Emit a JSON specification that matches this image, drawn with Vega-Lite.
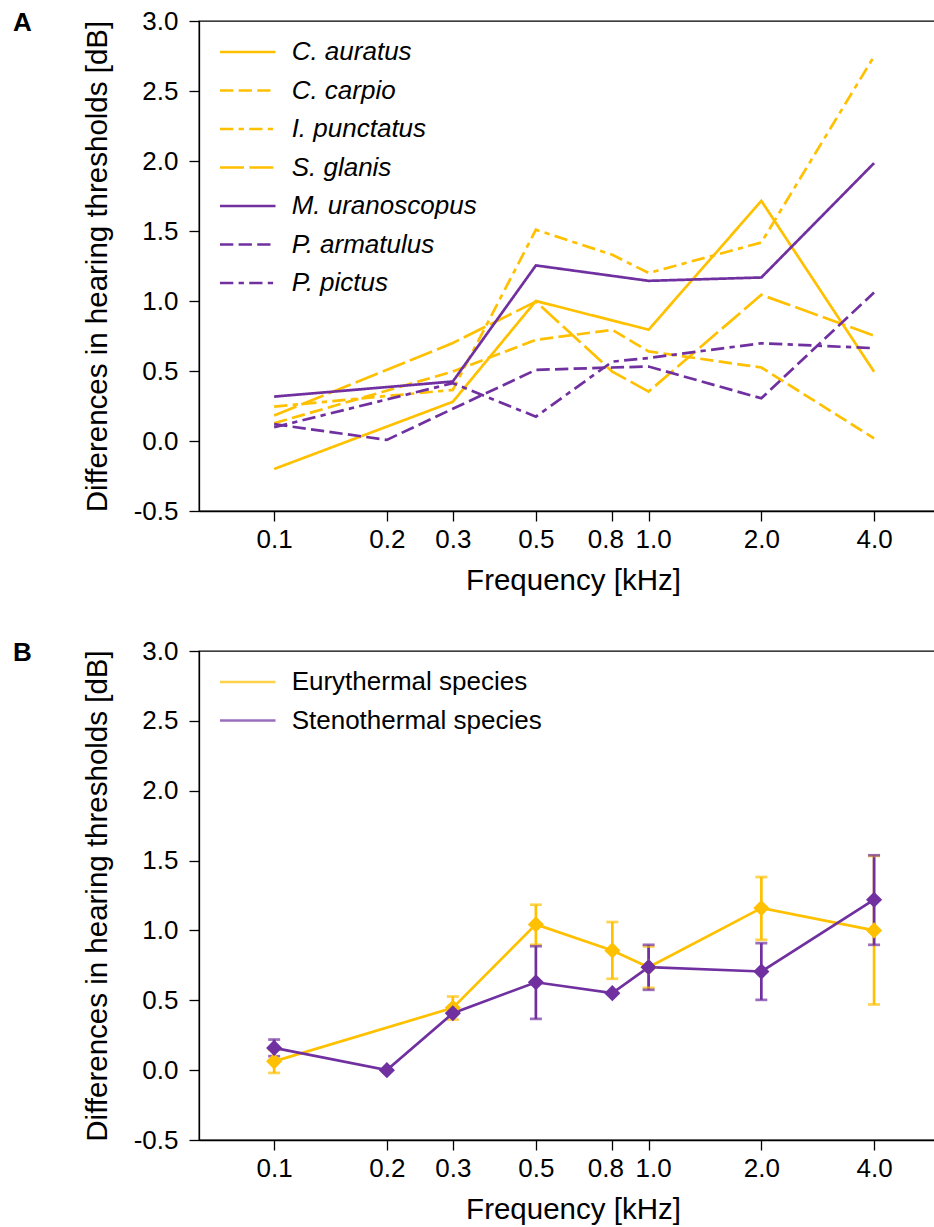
{
  "$schema": "https://vega.github.io/schema/vega-lite/v6.json",
  "padding": {"left": 12, "top": 7, "right": 0, "bottom": 0},
  "background": "white",
  "spacing": 41,
  "resolve": {
    "scale": {"color": "independent", "strokeDash": "independent"},
    "legend": {"color": "independent", "strokeDash": "independent"}
  },
  "config": {
    "font": "Liberation Sans",
    "view": {"stroke": "black", "strokeWidth": 1.3},
    "axis": {
      "grid": false,
      "domainColor": "black",
      "domainWidth": 1.3,
      "tickColor": "black",
      "tickWidth": 1.3,
      "tickSize": 10,
      "labelFont": "Liberation Sans",
      "labelFontSize": 26,
      "labelColor": "black",
      "titleFont": "Liberation Sans",
      "titleFontSize": 29.5,
      "titleFontWeight": "normal",
      "titleColor": "black",
      "labelOverlap": false
    },
    "axisX": {"labelPadding": 5, "titlePadding": 14, "titleX": 374, "labelFlush": false},
    "axisY": {"labelPadding": 11, "titlePadding": 21},
    "legend": {
      "orient": "top-left",
      "offset": 18,
      "padding": 0,
      "symbolType": "stroke",
      "symbolSize": 3080,
      "symbolStrokeWidth": 2.7,
      "symbolOffset": 1.25,
      "labelOffset": 14.4,
      "labelFont": "Liberation Sans",
      "labelFontSize": 26,
      "labelColor": "black",
      "labelLimit": 0,
      "rowPadding": 12.5,
      "clipHeight": 26
    },
    "title": {
      "anchor": "start",
      "frame": "group",
      "font": "Liberation Sans",
      "fontSize": 26,
      "fontWeight": "bold",
      "color": "black",
      "offset": 0,
      "baseline": "alphabetic",
      "dx": -186,
      "dy": 32
    }
  },
  "datasets": {
    "species": [
      {"species": "C. auratus", "freq": 0.1, "diff": -0.2},
      {"species": "C. auratus", "freq": 0.3, "diff": 0.28},
      {"species": "C. auratus", "freq": 0.5, "diff": 1.0},
      {"species": "C. auratus", "freq": 1.0, "diff": 0.795},
      {"species": "C. auratus", "freq": 2.0, "diff": 1.715},
      {"species": "C. auratus", "freq": 4.0, "diff": 0.495},
      {"species": "C. carpio", "freq": 0.1, "diff": 0.127},
      {"species": "C. carpio", "freq": 0.3, "diff": 0.496},
      {"species": "C. carpio", "freq": 0.5, "diff": 0.722},
      {"species": "C. carpio", "freq": 0.8, "diff": 0.794},
      {"species": "C. carpio", "freq": 1.0, "diff": 0.64},
      {"species": "C. carpio", "freq": 2.0, "diff": 0.525},
      {"species": "C. carpio", "freq": 4.0, "diff": 0.019},
      {"species": "I. punctatus", "freq": 0.1, "diff": 0.246},
      {"species": "I. punctatus", "freq": 0.3, "diff": 0.365},
      {"species": "I. punctatus", "freq": 0.5, "diff": 1.509},
      {"species": "I. punctatus", "freq": 0.8, "diff": 1.33},
      {"species": "I. punctatus", "freq": 1.0, "diff": 1.2},
      {"species": "I. punctatus", "freq": 2.0, "diff": 1.418},
      {"species": "I. punctatus", "freq": 4.0, "diff": 2.748},
      {"species": "S. glanis", "freq": 0.1, "diff": 0.182},
      {"species": "S. glanis", "freq": 0.3, "diff": 0.7},
      {"species": "S. glanis", "freq": 0.5, "diff": 0.996},
      {"species": "S. glanis", "freq": 0.8, "diff": 0.496},
      {"species": "S. glanis", "freq": 1.0, "diff": 0.353},
      {"species": "S. glanis", "freq": 2.0, "diff": 1.044},
      {"species": "S. glanis", "freq": 4.0, "diff": 0.753},
      {"species": "M. uranoscopus", "freq": 0.1, "diff": 0.317},
      {"species": "M. uranoscopus", "freq": 0.3, "diff": 0.425},
      {"species": "M. uranoscopus", "freq": 0.5, "diff": 1.254},
      {"species": "M. uranoscopus", "freq": 1.0, "diff": 1.144},
      {"species": "M. uranoscopus", "freq": 2.0, "diff": 1.168},
      {"species": "M. uranoscopus", "freq": 4.0, "diff": 1.985},
      {"species": "P. armatulus", "freq": 0.1, "diff": 0.12},
      {"species": "P. armatulus", "freq": 0.2, "diff": 0.008},
      {"species": "P. armatulus", "freq": 0.3, "diff": 0.23},
      {"species": "P. armatulus", "freq": 0.5, "diff": 0.508},
      {"species": "P. armatulus", "freq": 0.8, "diff": 0.525},
      {"species": "P. armatulus", "freq": 1.0, "diff": 0.532},
      {"species": "P. armatulus", "freq": 2.0, "diff": 0.305},
      {"species": "P. armatulus", "freq": 4.0, "diff": 1.061},
      {"species": "P. pictus", "freq": 0.1, "diff": 0.098},
      {"species": "P. pictus", "freq": 0.3, "diff": 0.413},
      {"species": "P. pictus", "freq": 0.5, "diff": 0.174},
      {"species": "P. pictus", "freq": 0.8, "diff": 0.567},
      {"species": "P. pictus", "freq": 1.0, "diff": 0.593},
      {"species": "P. pictus", "freq": 2.0, "diff": 0.698},
      {"species": "P. pictus", "freq": 4.0, "diff": 0.663}
    ],
    "groups": [
      {"group": "Eurythermal species", "freq": 0.1, "mean": 0.063, "lo": -0.02, "hi": 0.146},
      {"group": "Eurythermal species", "freq": 0.3, "mean": 0.446, "lo": 0.362, "hi": 0.527},
      {"group": "Eurythermal species", "freq": 0.5, "mean": 1.043, "lo": 0.897, "hi": 1.184},
      {"group": "Eurythermal species", "freq": 0.8, "mean": 0.857, "lo": 0.654, "hi": 1.06},
      {"group": "Eurythermal species", "freq": 1.0, "mean": 0.737, "lo": 0.589, "hi": 0.885},
      {"group": "Eurythermal species", "freq": 2.0, "mean": 1.16, "lo": 0.933, "hi": 1.382},
      {"group": "Eurythermal species", "freq": 4.0, "mean": 1.0, "lo": 0.47, "hi": 1.533},
      {"group": "Stenothermal species", "freq": 0.1, "mean": 0.159, "lo": 0.1, "hi": 0.219},
      {"group": "Stenothermal species", "freq": 0.2, "mean": 0.0, "lo": null, "hi": null},
      {"group": "Stenothermal species", "freq": 0.3, "mean": 0.407, "lo": null, "hi": null},
      {"group": "Stenothermal species", "freq": 0.5, "mean": 0.629, "lo": 0.367, "hi": 0.887},
      {"group": "Stenothermal species", "freq": 0.8, "mean": 0.551, "lo": null, "hi": null},
      {"group": "Stenothermal species", "freq": 1.0, "mean": 0.737, "lo": 0.575, "hi": 0.897},
      {"group": "Stenothermal species", "freq": 2.0, "mean": 0.706, "lo": 0.503, "hi": 0.909},
      {"group": "Stenothermal species", "freq": 4.0, "mean": 1.22, "lo": 0.897, "hi": 1.538}
    ]
  },
  "vconcat": [
    {
      "width": 738,
      "height": 490,
      "title": {"text": "A"},
      "data": {"name": "species"},
      "mark": {"type": "line", "strokeWidth": 2.7},
      "encoding": {
        "x": {
          "field": "freq", "type": "quantitative",
          "scale": {"type": "log", "domain": [0.063, 5.89], "nice": false},
          "axis": {
            "values": [0.1, 0.2, 0.3, 0.5, 0.8, 1, 2, 4], "format": ".1f", "title": "Frequency [kHz]",
            "labelOffset": {"condition": [{"test": "datum.value == 0.8", "value": -7}, {"test": "datum.value == 1", "value": 4.5}], "value": 0}
          }
        },
        "y": {
          "field": "diff", "type": "quantitative",
          "scale": {"domain": [-0.5, 3], "nice": false, "zero": false},
          "axis": {
            "values": [-0.5, 0, 0.5, 1, 1.5, 2, 2.5, 3],
            "labelExpr": "datum.value < 0 ? '-' + format(-datum.value, '.1f') : format(datum.value, '.1f')",
            "title": "Differences in hearing thresholds [dB]"
          }
        },
        "color": {
          "field": "species", "type": "nominal",
          "scale": {
            "domain": ["C. auratus", "C. carpio", "I. punctatus", "S. glanis", "M. uranoscopus", "P. armatulus", "P. pictus"],
            "range": ["#FFC000", "#FFC000", "#FFC000", "#FFC000", "#7030A0", "#7030A0", "#7030A0"]
          },
          "legend": {"title": null, "labelFontStyle": "italic"}
        },
        "strokeDash": {
          "field": "species", "type": "nominal",
          "scale": {
            "domain": ["C. auratus", "C. carpio", "I. punctatus", "S. glanis", "M. uranoscopus", "P. armatulus", "P. pictus"],
            "range": [[1, 0], [13.3, 5.3], [13.3, 5.3, 5.3, 5.3], [24, 5.3], [1, 0], [13.3, 5.3], [13.3, 5.3, 5.3, 5.3]]
          },
          "legend": {"title": null, "labelFontStyle": "italic"}
        }
      }
    },
    {
      "width": 738,
      "height": 489,
      "title": {"text": "B"},
      "data": {"name": "groups"},
      "encoding": {
        "x": {
          "field": "freq", "type": "quantitative",
          "scale": {"type": "log", "domain": [0.063, 5.89], "nice": false},
          "axis": {
            "values": [0.1, 0.2, 0.3, 0.5, 0.8, 1, 2, 4], "format": ".1f", "title": "Frequency [kHz]",
            "labelOffset": {"condition": [{"test": "datum.value == 0.8", "value": -7}, {"test": "datum.value == 1", "value": 4.5}], "value": 0}
          }
        },
        "color": {
          "field": "group", "type": "nominal",
          "scale": {"domain": ["Eurythermal species", "Stenothermal species"], "range": ["#FFC000", "#7030A0"]},
          "legend": {"title": null}
        }
      },
      "layer": [
        {
          "transform": [{"filter": "datum.lo != null"}],
          "mark": {"type": "rule", "strokeWidth": 2.7},
          "encoding": {
            "y": {
              "field": "lo", "type": "quantitative",
              "scale": {"domain": [-0.5, 3], "nice": false, "zero": false},
              "axis": {
                "values": [-0.5, 0, 0.5, 1, 1.5, 2, 2.5, 3],
                "labelExpr": "datum.value < 0 ? '-' + format(-datum.value, '.1f') : format(datum.value, '.1f')",
                "title": "Differences in hearing thresholds [dB]"
              }
            },
            "y2": {"field": "hi"}
          }
        },
        {
          "transform": [{"filter": "datum.lo != null"}],
          "mark": {"type": "tick", "orient": "horizontal", "size": 12, "thickness": 2.7},
          "encoding": {
            "y": {"field": "lo", "type": "quantitative", "title": "Differences in hearing thresholds [dB]"}
          }
        },
        {
          "transform": [{"filter": "datum.hi != null"}],
          "mark": {"type": "tick", "orient": "horizontal", "size": 12, "thickness": 2.7},
          "encoding": {
            "y": {"field": "hi", "type": "quantitative", "title": "Differences in hearing thresholds [dB]"}
          }
        },
        {
          "mark": {"type": "line", "strokeWidth": 2.7},
          "encoding": {
            "y": {"field": "mean", "type": "quantitative", "title": "Differences in hearing thresholds [dB]"}
          }
        },
        {
          "mark": {"type": "point", "shape": "diamond", "filled": true, "size": 260, "opacity": 1},
          "encoding": {
            "y": {"field": "mean", "type": "quantitative", "title": "Differences in hearing thresholds [dB]"}
          }
        }
      ]
    }
  ]
}
